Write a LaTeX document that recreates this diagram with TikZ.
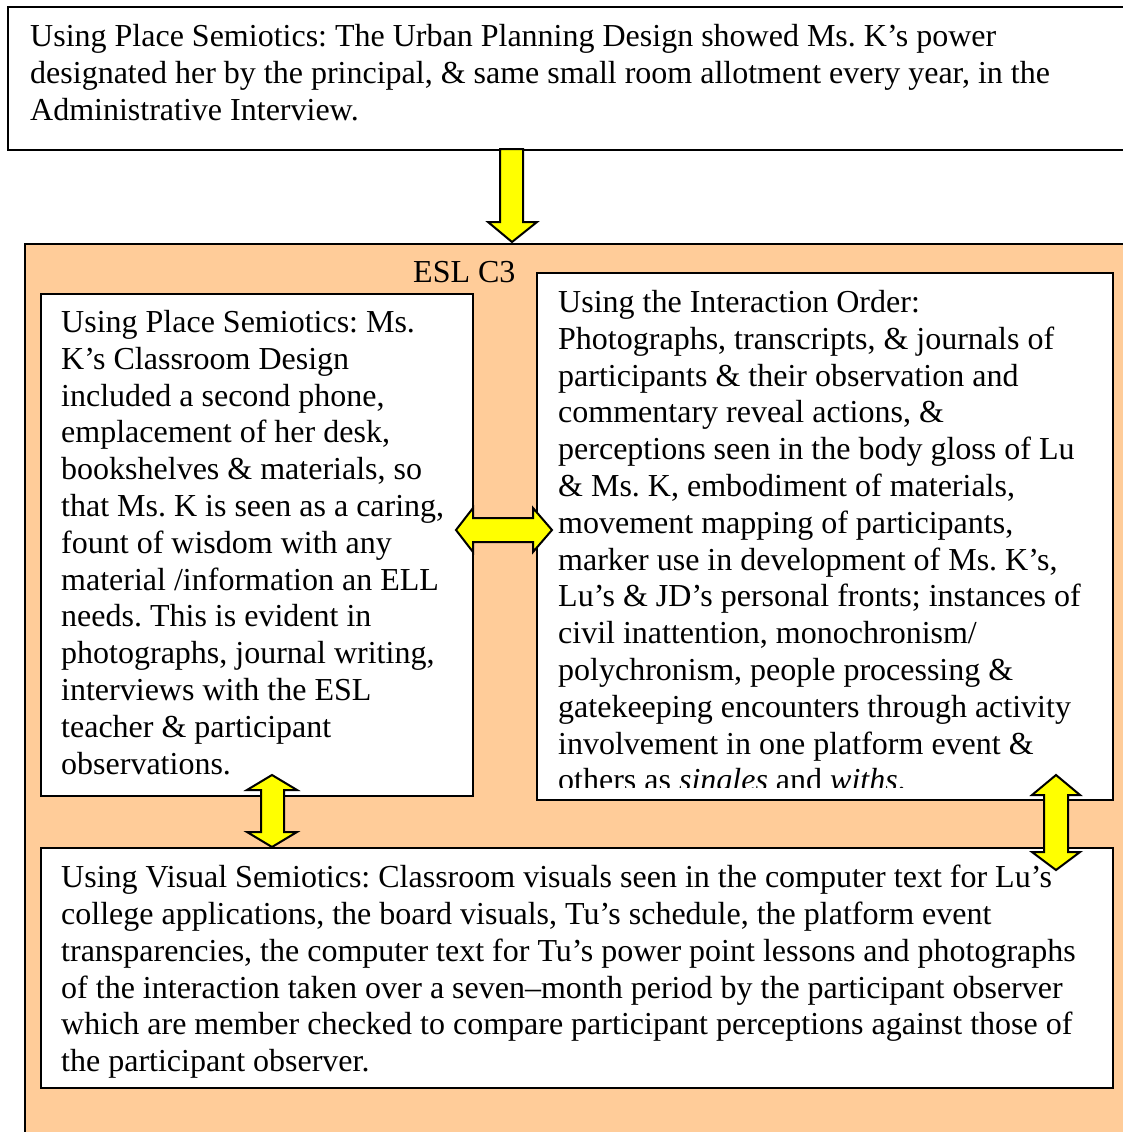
\documentclass[tikz,border=0pt]{standalone}
\usepackage{fontspec}
\setmainfont{Liberation Serif}
\frenchspacing
\definecolor{lightorange}{HTML}{FFCC99}
\definecolor{arrowyellow}{HTML}{FFFF00}

\begin{document}
\begin{tikzpicture}[x=1pt,y=1pt,
  frame/.style={draw=black,line width=2pt,fill=white,inner sep=0pt,anchor=north west},
  txt/.style={align=left,inner sep=0pt,anchor=north west,font=\fontsize{32}{36.8}\selectfont},
  blockarrow/.style={draw=black,line width=2pt,fill=arrowyellow,line join=miter}]
  \useasboundingbox (0,0) rectangle (1123,-1132);

  \node[frame,minimum width=1130,minimum height=143] (admin) at (7,-6) {};
  \node[txt] (admintext) at (30,-24) {Using Place Semiotics: The Urban Planning Design showed Ms. K’s power\\
designated her by the principal, \& same small room allotment every year, in the\\
Administrative Interview.};

  \node[frame,fill=lightorange,minimum width=1110,minimum height=900] (esl) at (24,-243) {};
  \node[txt,anchor=base west] (esllabel) at (413,-282) {ESL C3};

  \node[frame,minimum width=432,minimum height=502] (classroom) at (40,-293) {};
  \node[txt] (classroomtext) at (61,-310) {Using Place Semiotics: Ms.\\
K’s Classroom Design\\
included a second phone,\\
emplacement of her desk,\\
bookshelves \& materials, so\\
that Ms. K is seen as a caring,\\
fount of wisdom with any\\
material /information an ELL\\
needs. This is evident in\\
photographs, journal writing,\\
interviews with the ESL\\
teacher \& participant\\
observations.};

  \node[frame,minimum width=576,minimum height=527] (interaction) at (536,-272) {};
  \begin{scope}
    \clip (536,-272) rectangle (1112,-787);
    \node[txt] (interactiontext) at (558,-290) {Using the Interaction Order:\\
Photographs, transcripts, \& journals of\\
participants \& their observation and\\
commentary reveal actions, \&\\
perceptions seen in the body gloss of Lu\\
\& Ms. K, embodiment of materials,\\
movement mapping of participants,\\
marker use in development of Ms. K’s,\\
Lu’s \& JD’s personal fronts; instances of\\
civil inattention, monochronism/\\
polychronism, people processing \&\\
gatekeeping encounters through activity\\
involvement in one platform event \&\\
others as \textit{singles} and \textit{withs}.};
  \end{scope}

  \node[frame,minimum width=1072,minimum height=240] (visual) at (40,-847) {};
  \node[txt] (visualtext) at (61,-865) {Using Visual Semiotics: Classroom visuals seen in the computer text for Lu’s\\
college applications, the board visuals, Tu’s schedule, the platform event\\
transparencies, the computer text for Tu’s power point lessons and photographs\\
of the interaction taken over a seven–month period by the participant observer\\
which are member checked to compare participant perceptions against those of\\
the participant observer.};

  \draw[blockarrow] (500,-149) -- (523,-149) -- (523,-222) -- (537,-222) -- (512,-242)
    -- (488,-222) -- (500,-222) -- cycle;
  \draw[blockarrow] (456,-530) -- (473,-508) -- (473,-518) -- (533,-518) -- (533,-508)
    -- (552,-530) -- (533,-552) -- (533,-542) -- (473,-542) -- (473,-552) -- cycle;
  \draw[blockarrow] (272,-775) -- (297,-790) -- (284,-790) -- (284,-832) -- (297,-832)
    -- (272,-847) -- (247,-832) -- (261,-832) -- (261,-790) -- (247,-790) -- cycle;
  \draw[blockarrow] (1056,-775) -- (1080,-795) -- (1068,-795) -- (1068,-852) -- (1080,-852)
    -- (1056,-870) -- (1032,-852) -- (1044,-852) -- (1044,-795) -- (1032,-795) -- cycle;
\end{tikzpicture}
\end{document}
